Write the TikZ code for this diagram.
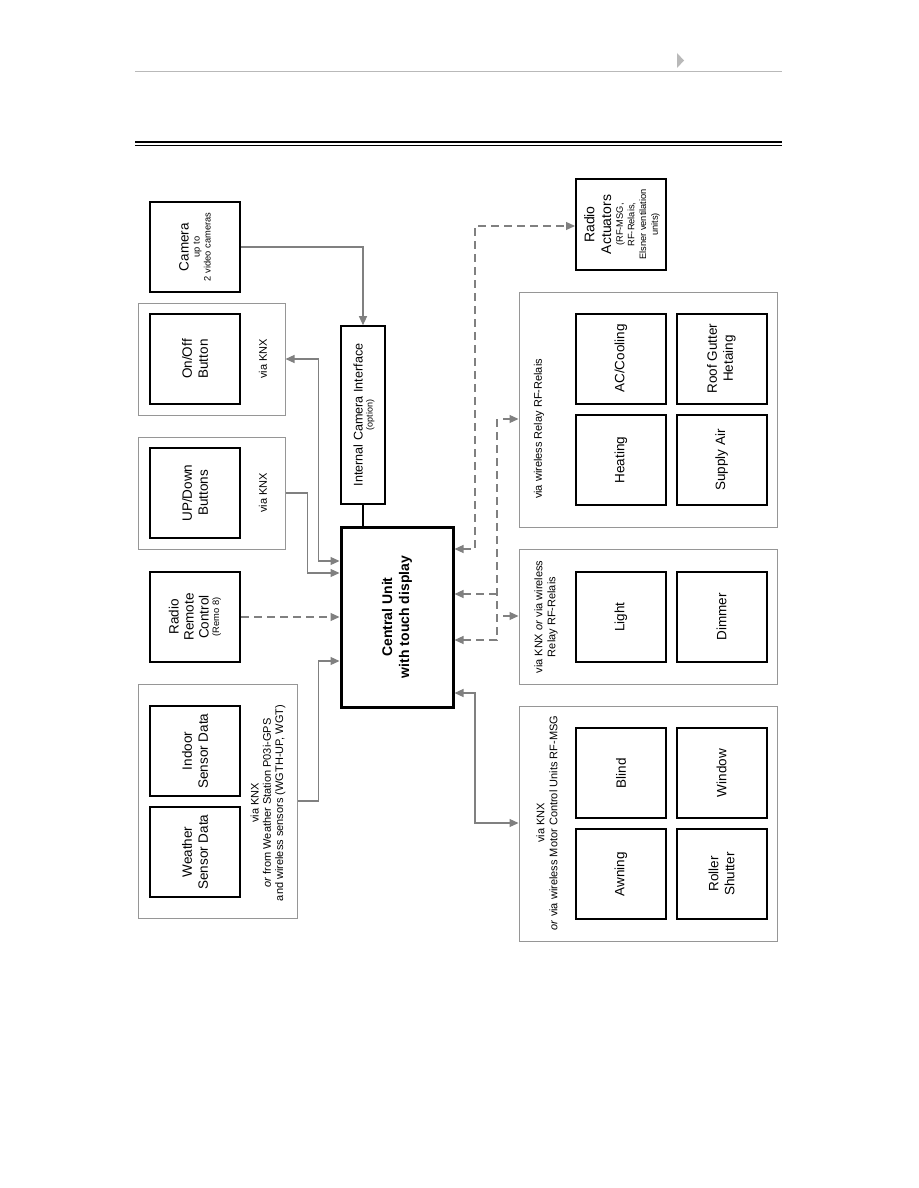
\documentclass[tikz,border=0pt]{standalone}
\usepackage{fontspec}
\setmainfont{Liberation Sans}
\usetikzlibrary{arrows.meta}
\definecolor{conncol}{RGB}{128,128,128}
\definecolor{grpcol}{RGB}{150,150,150}
\definecolor{hdrgray}{RGB}{185,185,185}
\begin{document}
\begin{tikzpicture}[x=1pt,y=-1pt,
  >={Triangle[length=9pt,width=8pt]},
  ibox/.style={draw=black, line width=2pt, minimum width=90pt, minimum height=90pt, inner sep=0pt},
  grp/.style={draw=grpcol, line width=1pt, inner sep=0pt},
  lbl/.style={rotate=90, align=center, font=\fontsize{13.5}{16}\selectfont, inner sep=0pt},
  glbl/.style={rotate=90, align=center, font=\fontsize{11}{13}\selectfont, inner sep=0pt},
  conn/.style={draw=conncol, line width=1.2pt},
  dconn/.style={draw=conncol, line width=1.2pt, dash pattern=on 8pt off 5pt},
]
\useasboundingbox (0,0) rectangle (918,1188);
\fill[white] (0,0) rectangle (918,1188);
% header
\draw[hdrgray, line width=1.6pt] (135,71.5) -- (782,71.5);
\fill[hdrgray] (677,53) -- (684,60.5) -- (677,68) -- cycle;
\draw[black, line width=2.7pt] (135,142) -- (782,142);
\draw[black, line width=1pt] (135,145.5) -- (782,145.5);

% left column
\node[ibox] (camera) at (195,247) {};
\node[lbl] at (camera) {Camera\\[-5pt]{\fontsize{9.3}{11}\selectfont up to}\\[-5pt]{\fontsize{9.3}{11}\selectfont 2 video cameras}};

\node[grp, minimum width=147pt, minimum height=112pt] (onoffgrp) at (211.5,359) {};
\node[ibox] (onoff) at (195,359) {};
\node[lbl] at (onoff) {On/Off\\Button};
\node[glbl] at (263,359) {via KNX};

\node[grp, minimum width=147pt, minimum height=112pt] (updowngrp) at (211.5,493) {};
\node[ibox] (updown) at (195,493) {};
\node[lbl] at (updown) {UP/Down\\Buttons};
\node[glbl] at (263,493) {via KNX};

\node[ibox] (remote) at (195,617) {};
\node[lbl, font=\fontsize{13.5}{15}\selectfont] at (remote) {Radio\\Remote\\Control\\[-4.5pt]{\fontsize{9.3}{11}\selectfont (Remo 8)}};

\node[grp, minimum width=159pt, minimum height=234pt] (wgrp) at (217.5,801) {};
\node[ibox] (indoor) at (195,751) {};
\node[lbl] at (indoor) {Indoor\\Sensor Data};
\node[ibox] (weather) at (195,852) {};
\node[lbl] at (weather) {Weather\\Sensor Data};
\node[glbl, font=\fontsize{11}{12.3}\selectfont] at (268,803) {via KNX\\\textit{or} from Weather Station P03i-GPS\\and wireless sensors (WGTH-UP, WGT)};

% centre
\node[draw=black, line width=1.6pt, minimum width=44pt, minimum height=178pt, inner sep=0pt] (ici) at (363,415) {};
\node[rotate=90, align=center, inner sep=0pt, font=\fontsize{12.6}{10}\selectfont] at (364,415) {Internal Camera Interface\\{\fontsize{9}{10}\selectfont (option)}};
\node[draw=black, line width=3pt, minimum width=112pt, minimum height=180pt, inner sep=0pt] (central) at (397,617) {};
\node[rotate=90, align=center, inner sep=0pt, font=\bfseries\fontsize{14}{17}\selectfont] at (central) {Central Unit\\with touch display};

% right column
\node[ibox, minimum height=91pt] (act) at (621,224.5) {};
\node[lbl, font=\fontsize{14}{16.7}\selectfont] at (622,224.5) {Radio\\Actuators\\[-5pt]{\fontsize{9.3}{11}\selectfont (RF-MSG,}\\[-5pt]{\fontsize{9.3}{11}\selectfont RF-Relais,}\\[-5pt]{\fontsize{9.3}{11}\selectfont Elsner ventilation}\\[-5pt]{\fontsize{9.3}{11}\selectfont units)}};

\node[grp, minimum width=258pt, minimum height=235pt] (relaygrp) at (648,409.5) {};
\node[glbl] at (539,429) {via wireless Relay RF-Relais};
\node[ibox] (ac) at (621,358.5) {};
\node[lbl] at (ac) {AC/Cooling};
\node[ibox] (roof) at (721.5,358.5) {};
\node[lbl] at (roof) {Roof Gutter\\Hetaing};
\node[ibox] (heating) at (621,460) {};
\node[lbl] at (heating) {Heating};
\node[ibox] (supply) at (721.5,460) {};
\node[lbl] at (supply) {Supply Air};

\node[grp, minimum width=258pt, minimum height=135pt] (lightgrp) at (648,616.5) {};
\node[glbl] at (546,617) {via KNX \textit{or} via wireless\\Relay RF-Relais};
\node[ibox] (light) at (621,617) {};
\node[lbl] at (light) {Light};
\node[ibox] (dimmer) at (721.5,617) {};
\node[lbl] at (dimmer) {Dimmer};

\node[grp, minimum width=258pt, minimum height=235pt] (motorgrp) at (648,823.5) {};
\node[glbl] at (547,823) {via KNX\\\textit{or} via wireless Motor Control Units RF-MSG};
\node[ibox] (blind) at (621,773) {};
\node[lbl] at (blind) {Blind};
\node[ibox] (window) at (721.5,773) {};
\node[lbl] at (window) {Window};
\node[ibox] (awning) at (621,874) {};
\node[lbl] at (awning) {Awning};
\node[ibox] (roller) at (721.5,874) {};
\node[lbl] at (roller) {Roller\\Shutter};

% connectors
\coordinate (busTop) at (497,419);
\coordinate (busLight) at (503,616);
\draw[conn,->] (camera.east) -| (ici.north);
\draw[black, line width=1.6pt] (ici.south) -- (ici.south |- central.north);
\draw[conn,<->] (onoffgrp.east) -- ++(33,0) |- (central.west |- 0,561);
\draw[conn,->] (updowngrp.east) -- ++(22,0) |- (central.west |- 0,573);
\draw[dconn,->] (remote.east) -- (central.west |- remote.east);
\draw[conn,->] (wgrp.east) -- ++(21,0) |- (central.west |- 0,661);

\draw[dconn,<->] (central.east |- 0,549) -| (475,226) -- (act.west |- 0,226);
\draw[dconn,<-] (central.east |- 0,640) -| (busTop);
\draw[dconn,<-] (central.east |- 0,594) -- (busTop |- 0,594);
\draw[dconn,->] (busTop) ++(6,0) -- (relaygrp.west |- busTop);
\draw[dconn,->] (busLight) -- (lightgrp.west |- busLight);
\draw[conn,<->] (central.east |- 0,693) -| (475,823) -- (motorgrp.west |- 0,823);
\end{tikzpicture}
\end{document}
